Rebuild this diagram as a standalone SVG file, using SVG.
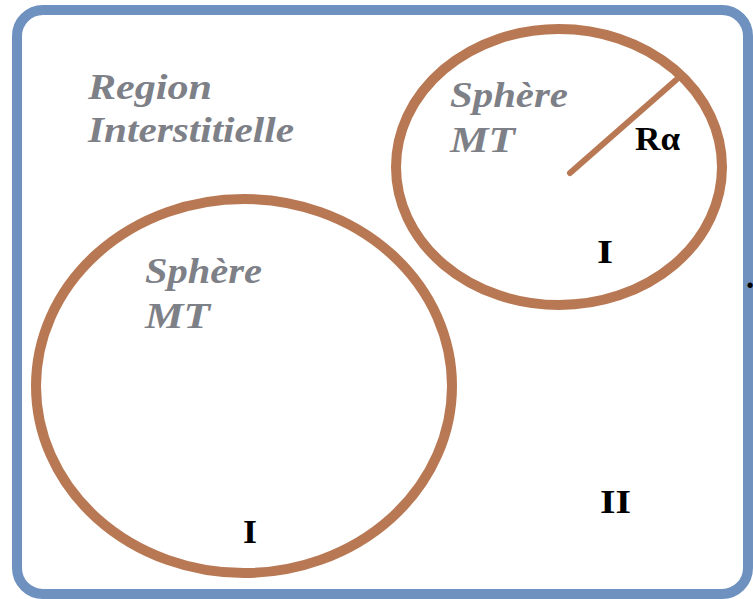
<svg xmlns="http://www.w3.org/2000/svg" width="753" height="599" viewBox="0 0 753 599">
<style>
.frame{fill:#ffffff;stroke:#6f91bf;stroke-width:10}
.sphere{fill:none;stroke:#b87853;stroke-width:10}
.radius{stroke:#b87853;stroke-width:6;stroke-linecap:round}
.lbl{font-family:"Liberation Serif","Times New Roman",serif;font-weight:bold;font-style:italic;font-size:35px;fill:#7e8087}
.num{font-family:"Liberation Serif","Times New Roman",serif;font-weight:bold;font-size:33px;fill:#000000}
</style>
<rect id="region" class="frame" x="17" y="10" width="731" height="584" rx="26" ry="26"/>
<g id="region-label">
<text class="lbl" x="88" y="99" textLength="124" lengthAdjust="spacingAndGlyphs">Region</text>
<text class="lbl" x="88" y="142" textLength="206" lengthAdjust="spacingAndGlyphs">Interstitielle</text>
</g>
<g id="sphere-small">
<ellipse class="sphere" cx="559" cy="167" rx="163" ry="138"/>
<line class="radius" x1="570" y1="173" x2="676" y2="80"/>
<text class="lbl" x="450" y="107" textLength="118" lengthAdjust="spacingAndGlyphs">Sphère</text>
<text class="lbl" x="450" y="152" textLength="65" lengthAdjust="spacingAndGlyphs">MT</text>
<text class="num" x="635" y="150" font-size="28" textLength="45" lengthAdjust="spacingAndGlyphs">Rα</text>
<text class="num" x="597" y="263" textLength="16" lengthAdjust="spacingAndGlyphs">I</text>
</g>
<g id="sphere-large">
<ellipse class="sphere" cx="244" cy="386" rx="208" ry="187"/>
<text class="lbl" x="145" y="283" textLength="117" lengthAdjust="spacingAndGlyphs">Sphère</text>
<text class="lbl" x="145" y="328" textLength="65" lengthAdjust="spacingAndGlyphs">MT</text>
<text class="num" x="243" y="543" textLength="14" lengthAdjust="spacingAndGlyphs">I</text>
</g>
<g id="region-II">
<text class="num" x="600" y="513" textLength="31" lengthAdjust="spacingAndGlyphs">II</text>
<text class="num" x="746" y="288" font-size="10" font-weight="normal">.</text>
</g>
<g id="connectors"/>
</svg>
